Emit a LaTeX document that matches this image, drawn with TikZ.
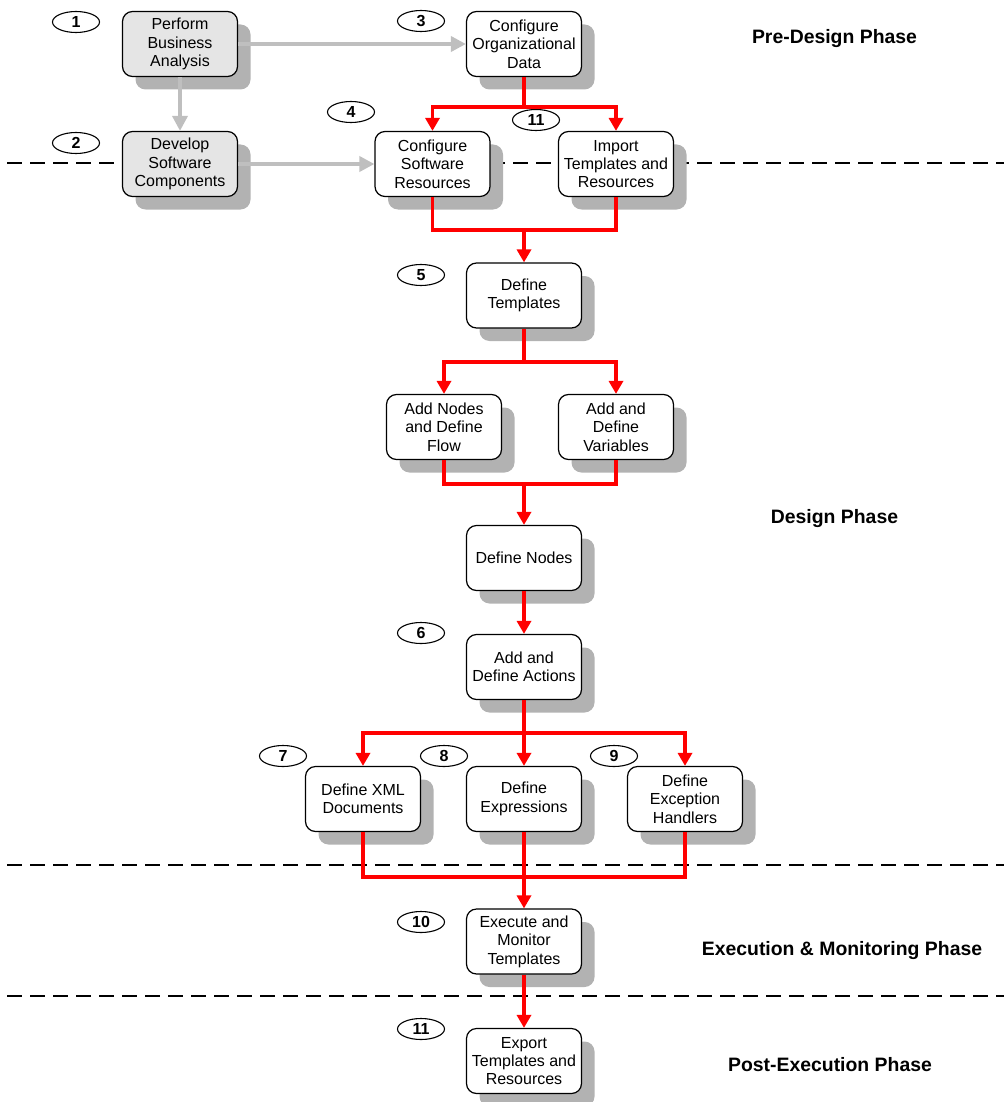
\documentclass[tikz,border=0pt]{standalone}
\usepackage{fontspec}
\setmainfont{Liberation Sans}
\usetikzlibrary{arrows.meta,shapes.geometric,shadows}
\definecolor{shgray}{RGB}{178,178,178}
\definecolor{boxgray}{RGB}{229,229,229}
\definecolor{linegray}{RGB}{191,191,191}
\definecolor{flowred}{RGB}{255,0,0}
\tikzset{
  stepbox/.style={draw=black, line width=1.2pt, rounded corners=10pt, fill=white,
    minimum width=115pt, minimum height=65pt, inner sep=0pt, align=center,
    font=\fontsize{16}{18.4}\selectfont,
    drop shadow={shadow xshift=13pt, shadow yshift=-13pt, fill=shgray, opacity=1}},
  greybox/.style={stepbox, fill=boxgray},
  numoval/.style={ellipse, draw=black, line width=1.1pt, fill=white,
    minimum width=47pt, minimum height=21pt, inner sep=0pt,
    font=\fontsize{16}{16}\selectfont\bfseries},
  phaselabel/.style={font=\fontsize{19.4}{22}\selectfont\bfseries, inner sep=0pt},
  phaseline/.style={draw=black, line width=1.8pt, dash pattern=on 15pt off 8pt},
  redline/.style={draw=flowred, line width=3.6pt, line join=miter},
  redarrow/.style={redline, -{Triangle[width=14pt,length=13pt]}},
  grayarrow/.style={draw=linegray, line width=3.6pt, -{Triangle[width=15pt,length=15pt]}}
}
\begin{document}
\begin{tikzpicture}[x=1pt, y={(0,-1pt)}]
\useasboundingbox (0,0) rectangle (1004,1102);

% phase separators
\coordinate (s1a) at (7,163);  \coordinate (s1b) at (1004,163);
\coordinate (s2a) at (7,865);  \coordinate (s2b) at (1004,865);
\coordinate (s3a) at (7,996);  \coordinate (s3b) at (1004,996);
\draw[phaseline] (s1a) -- (s1b);
\draw[phaseline] (s2a) -- (s2b);
\draw[phaseline] (s3a) -- (s3b);

% phase titles
\node[phaselabel] (ph1) at (834.5,39)  {Pre-Design Phase};
\node[phaselabel] (ph2) at (834.5,519) {Design Phase};
\node[phaselabel] (ph3) at (842,951)   {Execution \& Monitoring Phase};
\node[phaselabel] (ph4) at (830,1065)  {Post-Execution Phase};

% process steps
\node[greybox] (pba) at (180,44)    {Perform\\Business\\Analysis};
\node[greybox] (dsc) at (180,164)   {Develop\\Software\\Components};
\node[stepbox] (org) at (524,44)    {Configure\\Organizational\\Data};
\node[stepbox] (csr) at (432.5,164) {Configure\\Software\\Resources};
\node[stepbox] (imp) at (616,164)   {Import\\Templates and\\Resources};
\node[stepbox] (tpl) at (524,295.5) {Define\\Templates};
\node[stepbox] (anf) at (444,427)   {Add Nodes\\and Define\\Flow};
\node[stepbox] (adv) at (616,427)   {Add and\\Define\\Variables};
\node[stepbox] (dnd) at (524,558)   {Define Nodes};
\node[stepbox] (ada) at (524,667)   {Add and\\Define Actions};
\node[stepbox] (xml) at (363,799)   {Define XML\\Documents};
\node[stepbox] (exp) at (524,799)   {Define\\Expressions};
\node[stepbox] (exh) at (685,799)   {Define\\Exception\\Handlers};
\node[stepbox] (exe) at (524,941.5) {Execute and\\Monitor\\Templates};
\node[stepbox] (ext) at (524,1061)  {Export\\Templates and\\Resources};

% step numbers
\node[numoval] (n1)  at (76,22)   {1};
\node[numoval] (n2)  at (76,143)  {2};
\node[numoval] (n3)  at (421,21)  {3};
\node[numoval] (n4)  at (351,112) {4};
\node[numoval] (n11a) at (536,120) {11};
\node[numoval] (n5)  at (421,275) {5};
\node[numoval] (n6)  at (421,633) {6};
\node[numoval] (n7)  at (283,756) {7};
\node[numoval] (n8)  at (444,756) {8};
\node[numoval] (n9)  at (614,756) {9};
\node[numoval] (n10) at (421,922) {10};
\node[numoval] (n11b) at (421,1029) {11};

% pre-design flow
\draw[grayarrow] (pba.south) -- (dsc.north);
\draw[grayarrow] (pba.east) -- (org.west);
\draw[grayarrow] (dsc.east) -- (csr.west);

% junction points of the red flow
\coordinate (j1) at (524,107);
\coordinate (j2) at (524,230);
\coordinate (j3) at (524,362);
\coordinate (j4) at (524,484);
\coordinate (j5) at (524,733);
\coordinate (j6) at (524,877);

\draw[redline] (org.south) -- (j1);
\draw[redarrow] (j1) -| (csr.north);
\draw[redarrow] (j1) -| (imp.north);

\draw[redline] (csr.south) |- (j2);
\draw[redline] (imp.south) |- (j2);
\draw[redarrow] (j2) -- (tpl.north);

\draw[redline] (tpl.south) -- (j3);
\draw[redarrow] (j3) -| (anf.north);
\draw[redarrow] (j3) -| (adv.north);

\draw[redline] (anf.south) |- (j4);
\draw[redline] (adv.south) |- (j4);
\draw[redarrow] (j4) -- (dnd.north);

\draw[redarrow] (dnd.south) -- (ada.north);

\draw[redline] (ada.south) -- (j5);
\draw[redarrow] (j5) -| (xml.north);
\draw[redarrow] (j5) -- (exp.north);
\draw[redarrow] (j5) -| (exh.north);

\draw[redline] (xml.south) |- (j6);
\draw[redline] (exh.south) |- (j6);
\draw[redarrow] (exp.south) -- (exe.north);

\draw[redarrow] (exe.south) -- (ext.north);
\end{tikzpicture}
\end{document}
